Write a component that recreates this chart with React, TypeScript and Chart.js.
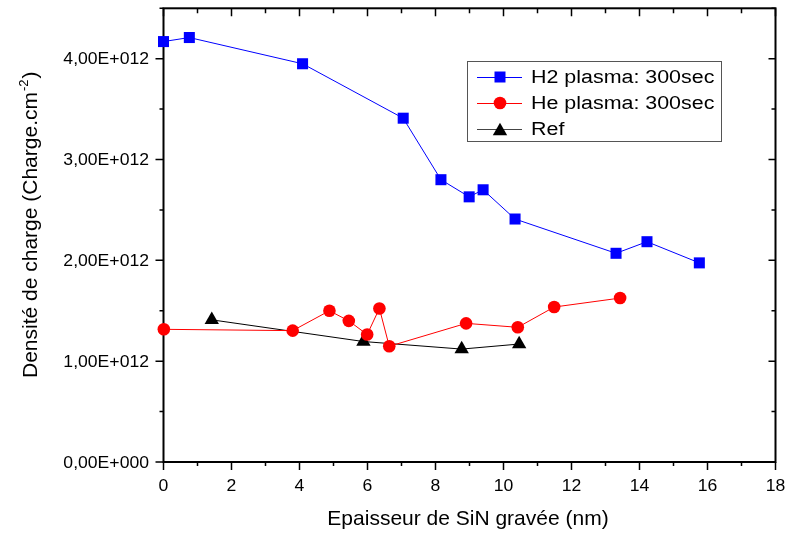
import React, { useEffect, useRef } from "react";
import { Chart, registerables } from "chart.js";

Chart.register(...registerables);

const FONT = "'Liberation Sans', Arial, Helvetica, sans-serif";

// ---- data ----
const seriesLabels = ["H2 plasma: 300sec", "He plasma: 300sec", "Ref"];
const seriesColors = ["#0000FF", "#FF0000", "#000000"];

const h2X = [0, 0.76, 4.09, 7.05, 8.16, 8.99, 9.4, 10.34, 13.31, 14.22, 15.76];
const h2Y = [4.17e12, 4.21e12, 3.95e12, 3.41e12, 2.8e12, 2.63e12, 2.7e12, 2.41e12, 2.07e12, 2.185e12, 1.975e12];

const heX = [0.01, 3.8, 4.88, 5.45, 5.99, 6.35, 6.64, 8.9, 10.42, 11.49, 13.43];
const heY = [1.316e12, 1.303e12, 1.5e12, 1.4e12, 1.264e12, 1.523e12, 1.148e12, 1.375e12, 1.336e12, 1.537e12, 1.626e12];

const refX = [1.42, 5.88, 8.77, 10.46];
const refY = [1.41e12, 1.195e12, 1.12e12, 1.17e12];

const xMin = 0;
const xMax = 18;
const xTickValues = [0, 2, 4, 6, 8, 10, 12, 14, 16, 18];
const xMinorValues = [1, 3, 5, 7, 9, 11, 13, 15, 17];
const yMin = 0;
const yMax = 4.5e12;
const yTickValues = [0, 1e12, 2e12, 3e12, 4e12];
const yMinorValues = [0.5e12, 1.5e12, 2.5e12, 3.5e12, 4.5e12];

const xTitle = "Epaisseur de SiN gravée (nm)";
const yTitleMain = "Densité de charge (Charge.cm";
const yTitleSup = "-2";
const yTitleEnd = ")";

function fmtY(v: number): string {
  const m = v / 1e12;
  if (Math.abs(m) < 1e-9) return "0,00E+000";
  return m.toFixed(2).replace(".", ",") + "E+012";
}

function pts(xs: number[], ys: number[]) {
  return xs.map((x, i) => ({ x, y: ys[i] }));
}

function drawMarker(ctx: CanvasRenderingContext2D, shape: string, x: number, y: number, color: string) {
  ctx.save();
  ctx.fillStyle = color;
  ctx.beginPath();
  if (shape === "rect") {
    ctx.rect(x - 5.5, y - 5.5, 11, 11);
  } else if (shape === "circle") {
    ctx.arc(x, y, 6.3, 0, Math.PI * 2);
  } else {
    const r = 8.3;
    for (let k = 0; k < 3; k++) {
      const a = (k * 2 * Math.PI) / 3;
      const px = x + Math.sin(a) * r;
      const py = y - Math.cos(a) * r;
      if (k === 0) ctx.moveTo(px, py);
      else ctx.lineTo(px, py);
    }
    ctx.closePath();
  }
  ctx.fill();
  ctx.restore();
}

function stretchedText(ctx: CanvasRenderingContext2D, text: string, x: number, y: number, sx: number, align: CanvasTextAlign) {
  ctx.save();
  ctx.translate(x, y);
  ctx.scale(sx, 1);
  ctx.textAlign = align;
  ctx.fillText(text, 0, 0);
  ctx.restore();
}

const framePlugin = {
  id: "frame",
  beforeDatasetsDraw(chart: any) {
    const { ctx, chartArea: a, scales } = chart;
    const xs = scales.x;
    const ys = scales.y;
    ctx.save();
    ctx.strokeStyle = "#000";
    ctx.lineWidth = 1.5;
    ctx.beginPath();
    const xt = (v: number, major: boolean) => {
      const px = xs.getPixelForValue(v);
      ctx.moveTo(px, a.bottom);
      ctx.lineTo(px, a.bottom + (major ? 8 : 4));
      ctx.moveTo(px, a.top);
      ctx.lineTo(px, a.top + (major ? 8 : 5));
    };
    xTickValues.forEach((v) => xt(v, true));
    xMinorValues.forEach((v) => xt(v, false));
    const yt = (v: number, major: boolean) => {
      const py = ys.getPixelForValue(v);
      ctx.moveTo(a.left, py);
      ctx.lineTo(a.left - (major ? 8 : 4), py);
      ctx.moveTo(a.right, py);
      ctx.lineTo(a.right - (major ? 7 : 4), py);
    };
    yTickValues.forEach((v) => yt(v, true));
    yMinorValues.forEach((v) => yt(v, false));
    ctx.stroke();
    ctx.lineWidth = 2;
    ctx.strokeRect(a.left, a.top, a.right - a.left, a.bottom - a.top);

    // tick labels
    ctx.fillStyle = "#000";
    ctx.font = `16px ${FONT}`;
    ctx.textBaseline = "alphabetic";
    xTickValues.forEach((v) => {
      stretchedText(ctx, String(v), xs.getPixelForValue(v), 491, 1.1, "center");
    });
    yTickValues.forEach((v) => {
      stretchedText(ctx, fmtY(v), 149, ys.getPixelForValue(v) + 5.5, 1.1, "right");
    });

    // axis titles
    ctx.font = `21px ${FONT}`;
    ctx.textAlign = "center";
    ctx.fillText(xTitle, 468, 525);

    ctx.save();
    ctx.translate(37, 378);
    ctx.rotate(-Math.PI / 2);
    ctx.textAlign = "left";
    ctx.font = `21px ${FONT}`;
    ctx.fillText(yTitleMain, 0, 0);
    let w = ctx.measureText(yTitleMain).width;
    ctx.font = `13px ${FONT}`;
    ctx.fillText(yTitleSup, w + 1, -9);
    w += ctx.measureText(yTitleSup).width + 2;
    ctx.font = `21px ${FONT}`;
    ctx.fillText(yTitleEnd, w, 0);
    ctx.restore();

    ctx.restore();
  },
  afterDraw(chart: any) {
    const { ctx } = chart;
    ctx.save();
    ctx.strokeStyle = "#555";
    ctx.lineWidth = 1;
    ctx.strokeRect(467.5, 61.5, 254, 80);
    const rows = [77, 103, 129];
    const shapes = ["rect", "circle", "triangle"];
    const lineColors = ["#0000FF", "#FF0000", "#444444"];
    rows.forEach((ry, i) => {
      ctx.strokeStyle = lineColors[i];
      ctx.lineWidth = 1;
      ctx.beginPath();
      ctx.moveTo(477, ry + 0.5);
      ctx.lineTo(522, ry + 0.5);
      ctx.stroke();
      drawMarker(ctx, shapes[i], 500, ry + (i === 2 ? 2 : 0), seriesColors[i]);
      ctx.fillStyle = "#000";
      ctx.font = `18px ${FONT}`;
      ctx.textBaseline = "middle";
      stretchedText(ctx, seriesLabels[i], 531, ry + 1, 1.19, "left");
    });
    ctx.restore();
  },
};

export default function App() {
  const ref = useRef<HTMLCanvasElement | null>(null);
  useEffect(() => {
    if (!ref.current) return;
    const mk = (i: number, data: any[], shape: string, radius: number) => ({
      label: seriesLabels[i],
      data,
      showLine: true,
      borderColor: seriesColors[i],
      backgroundColor: seriesColors[i],
      borderWidth: 1,
      pointStyle: shape,
      pointRadius: radius,
      pointHoverRadius: radius,
      pointBorderWidth: 0,
      pointBackgroundColor: seriesColors[i],
      clip: false,
    });
    const chart = new Chart(ref.current, {
      type: "scatter",
      data: {
        datasets: [
          mk(0, pts(h2X, h2Y), "rect", 7.8),
          mk(1, pts(heX, heY), "circle", 6.3),
          mk(2, pts(refX, refY), "triangle", 8.3),
        ],
      },
      options: {
        responsive: false,
        animation: false,
        devicePixelRatio: 1,
        layout: { padding: { left: 0, top: 6, right: 10.5, bottom: 0 } },
        plugins: { legend: { display: false }, tooltip: { enabled: false } },
        scales: {
          x: {
            type: "linear",
            min: xMin,
            max: xMax,
            grid: { display: false, drawTicks: false },
            border: { display: false },
            afterBuildTicks: (s: any) => {
              s.ticks = xTickValues.map((v) => ({ value: v }));
            },
            ticks: { display: false },
            afterFit: (s: any) => {
              s.height = 71;
              s.paddingRight = 0;
              s.paddingLeft = 0;
            },
          },
          y: {
            type: "linear",
            min: yMin,
            max: yMax,
            grid: { display: false, drawTicks: false },
            border: { display: false },
            afterBuildTicks: (s: any) => {
              s.ticks = yTickValues.map((v) => ({ value: v }));
            },
            ticks: { display: false },
            afterFit: (s: any) => {
              s.width = 163.5;
              s.paddingTop = 0;
              s.paddingBottom = 0;
            },
          },
        },
      },
      plugins: [framePlugin],
    } as any);
    return () => chart.destroy();
  }, []);
  return (
    <div style={{ position: "fixed", left: 0, top: 0, width: 786, height: 533, background: "#fff" }}>
      <canvas ref={ref} width={786} height={533} style={{ display: "block" }} />
    </div>
  );
}
